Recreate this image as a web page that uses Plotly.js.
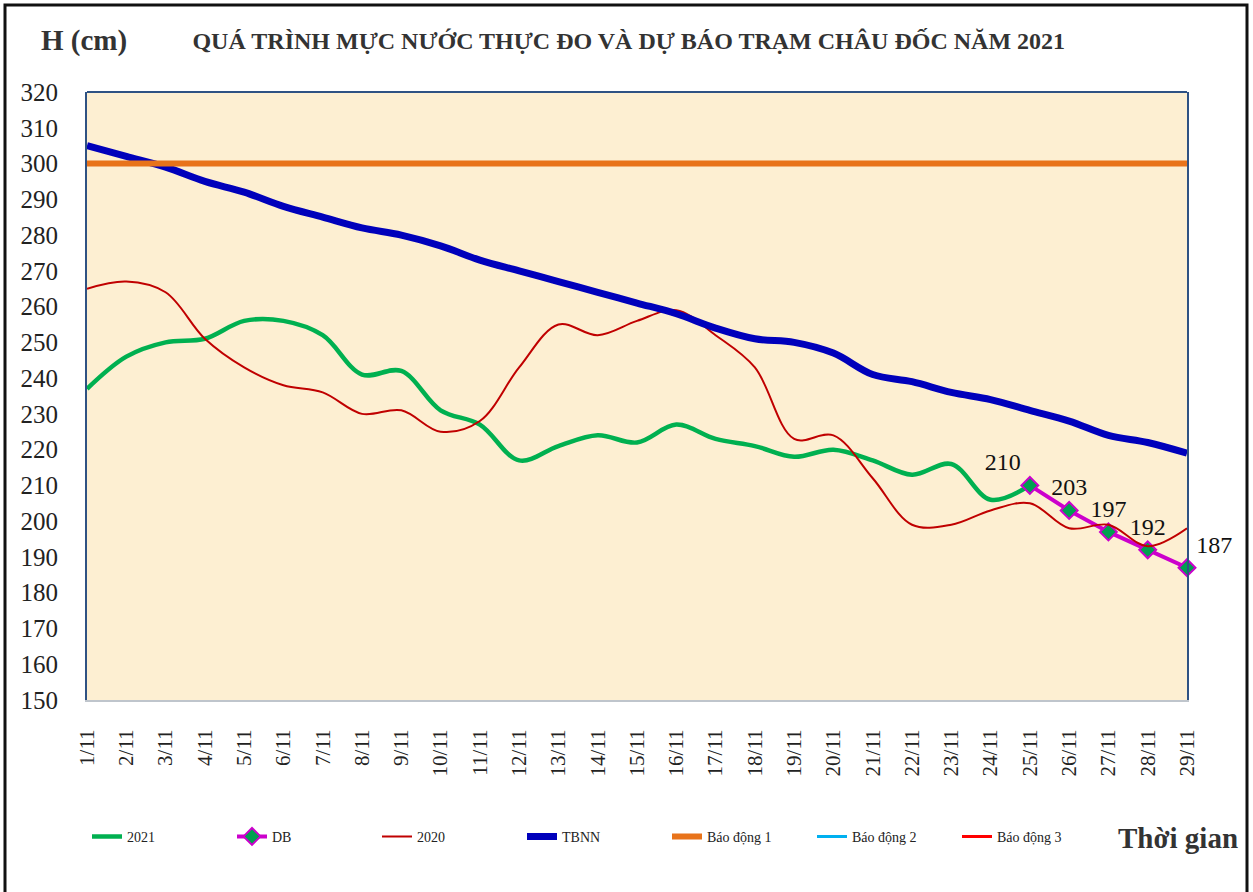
<!DOCTYPE html>
<html>
<head>
<meta charset="utf-8">
<script src="https://cdn.plot.ly/plotly-3.0.1.min.js"></script>
<style>
  html, body { margin: 0; padding: 0; background: #ffffff; }
  #chart { width: 1253px; height: 892px; }
</style>
</head>
<body>
<div id="chart"></div>
<script>
// ---- Data ----
var days = ["1/11","2/11","3/11","4/11","5/11","6/11","7/11","8/11","9/11","10/11",
            "11/11","12/11","13/11","14/11","15/11","16/11","17/11","18/11","19/11","20/11",
            "21/11","22/11","23/11","24/11","25/11","26/11","27/11","28/11","29/11"];
var h2021 = [237,246,250,251,256,256,252,241,242,231,227,217,221,224,222,227,223,221,218,220,
             217,213,216,206,210,null,null,null,null];
var hDB = [null,null,null,null,null,null,null,null,null,null,null,null,null,null,null,null,
           null,null,null,null,null,null,null,null,210,203,197,192,187];
var h2020 = [265,267,264,251,243,238,236,230,231,225,228,243,255,252,256,259,252,243,223,224,
             212,199,199,203,205,198,199,193,198];
var hTBNN = [305,302,299,295,292,288,285,282,280,277,273,270,267,264,261,258,254,251,250,247,
             241,239,236,234,231,228,224,222,219];
var level1 = 300, level2 = 350, level3 = 400;
var yTicks = [150,160,170,180,190,200,210,220,230,240,250,260,270,280,290,300,310,320];

function constant(v){ return days.map(function(){ return v; }); }

var serif = "Liberation Serif, Times New Roman, serif";

var dbPos = days.map(function(d, i){
  if (i === 24) return "top left";
  if (i === 28) return "top right";
  return "top center";
});

var traces = [
  {x: days, y: h2021, name: "2021", mode: "lines",
   line: {color: "#00B050", width: 4.5, shape: "spline", smoothing: 1}},
  {x: days, y: hDB, name: "DB", mode: "lines+markers+text",
   line: {color: "#CC00CC", width: 4},
   marker: {symbol: "diamond", size: 13, color: "#00A050", line: {color: "#CC00CC", width: 2}},
   texttemplate: "%{y}",
   textposition: dbPos,
   textfont: {family: serif, size: 24, color: "#111111"},
   cliponaxis: false},
  {x: days, y: h2020, name: "2020", mode: "lines",
   line: {color: "#C00000", width: 2, shape: "spline", smoothing: 1}},
  {x: days, y: hTBNN, name: "TBNN", mode: "lines",
   line: {color: "#0000BB", width: 7, shape: "spline", smoothing: 1}},
  {x: days, y: constant(level1), name: "Báo động 1", mode: "lines",
   line: {color: "#E8731A", width: 6}},
  {x: days, y: constant(level2), name: "Báo động 2", mode: "lines",
   line: {color: "#00B0F0", width: 3}},
  {x: days, y: constant(level3), name: "Báo động 3", mode: "lines",
   line: {color: "#FF0000", width: 3}}
];

var layout = {
  width: 1253, height: 892,
  margin: {l: 87, r: 66, t: 92, b: 192},
  paper_bgcolor: "#ffffff",
  plot_bgcolor: "#FDEFD2",
  font: {family: serif, color: "#222222"},
  title: {text: "<b>QUÁ TRÌNH MỰC NƯỚC THỰC ĐO VÀ DỰ BÁO TRẠM CHÂU ĐỐC NĂM 2021</b>",
          font: {family: serif, size: 24, color: "#333333"},
          xref: "paper", x: 0.4925, xanchor: "center",
          yref: "container", y: 1 - 41/892, yanchor: "middle"},
  xaxis: {type: "category", range: [0, 28], tickangle: -90,
          showgrid: false, zeroline: false,
          showline: true, linecolor: "#BFC5CC", linewidth: 2, mirror: false,
          ticks: "", ticklabelstandoff: 19,
          tickfont: {family: serif, size: 21, color: "#222222"}},
  yaxis: {range: [150, 320], tickvals: yTicks, showgrid: false, zeroline: false,
          showline: true, linecolor: "#2F5283", linewidth: 2, mirror: true,
          ticks: "", ticklabelstandoff: 22,
          tickfont: {family: serif, size: 25, color: "#222222"}},
  showlegend: true,
  legend: {orientation: "h", x: 0, xanchor: "left", y: -0.225, yanchor: "middle",
           font: {family: serif, size: 14, color: "#222222"},
           entrywidth: 100, entrywidthmode: "pixels",
           bgcolor: "rgba(0,0,0,0)"},
  annotations: [
    {text: "<b>H (cm)</b>", xref: "paper", yref: "paper",
     x: (39-87)/1100, xanchor: "left", y: (700-40)/608, yanchor: "middle",
     showarrow: false, font: {family: serif, size: 29, color: "#333333"}},
    {text: "<b>Thời gian</b>", xref: "paper", yref: "paper",
     x: (1240-87)/1100, xanchor: "right", y: (700-838)/608, yanchor: "middle",
     showarrow: false, font: {family: serif, size: 29, color: "#333333"}}
  ],
  shapes: [
    {type: "line", xref: "paper", yref: "paper", x0: 0, x1: 1, y0: 1, y1: 1,
     line: {color: "#2F5283", width: 2}},
    {type: "rect", xref: "paper", yref: "paper",
     x0: (5-87)/1100, x1: (1247-87)/1100, y0: (700-1000)/608, y1: (700-5)/608,
     line: {color: "#111111", width: 3}, fillcolor: "rgba(0,0,0,0)", layer: "below"}
  ]
};

Plotly.newPlot("chart", traces, layout, {displayModeBar: false, staticPlot: true});
</script>
</body>
</html>
